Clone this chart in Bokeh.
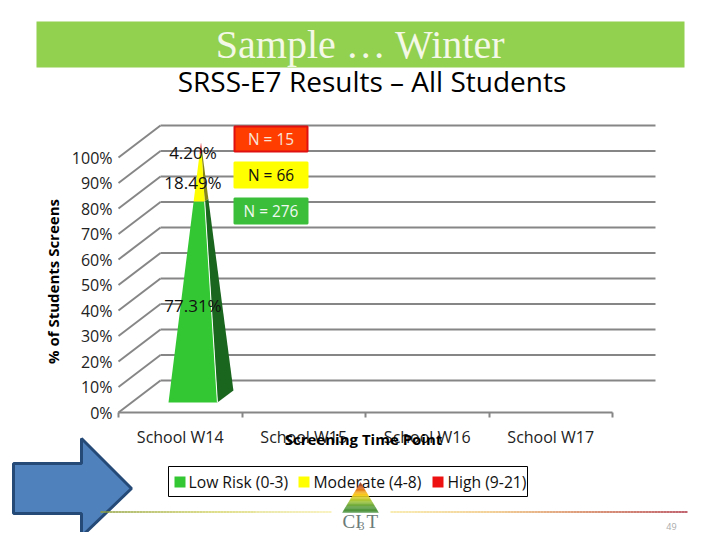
import numpy as np
from bokeh.embed import file_html
from bokeh.resources import INLINE
from bokeh.plotting import figure
from bokeh.models import (Range1d, LinearAxis, FixedTicker)
from bokeh.core.properties import value

# ---- data ----
categories = ["School W14", "School W15", "School W16", "School W17"]
low_risk = [77.31]
moderate = [18.49]
high = [4.20]
series_names = ["Low Risk (0-3)", "Moderate (4-8)", "High (9-21)"]
series_front = ["#33C733", "#FFFF00", "#EE1111"]
series_side = ["#1B661F", "#85851A", "#8B0F0F"]
n_labels = ["N = 15", "N = 66", "N = 276"]
pct_ticks = [0, 10, 20, 30, 40, 50, 60, 70, 80, 90, 100]

FONT = "Open Sans"
GRID = "#868686"
W, H = 712, 532
PX_X = 123.5   # page px per category
PX_Y = 2.55    # page px per percent on the wall
X0, Y0 = 118, 412
BAR_PX = 2.6
BAR_Y0 = 402


def tx(px):
    return (px - X0) / PX_X


def ty(py):
    return (Y0 - py) / PX_Y


p = figure(width=W, height=H, output_backend="svg", toolbar_location=None,
           x_range=Range1d(tx(0), tx(W)), y_range=Range1d(ty(H), ty(0)),
           x_axis_location=None, y_axis_location=None, min_border=0,
           background_fill_color="white", border_fill_color="white", outline_line_color=None)
p.xgrid.visible = False
p.ygrid.visible = False
p.extra_y_ranges["bar"] = Range1d((BAR_Y0 - H) / BAR_PX, BAR_Y0 / BAR_PX)
p.extra_x_ranges["page"] = Range1d(0, W)
p.extra_y_ranges["page"] = Range1d(H, 0)
PG = dict(x_range_name="page", y_range_name="page")


def page_text(x, y, s, size, color="black", font=FONT, style="normal", align="center", angle=0, level="overlay"):
    p.text([x], [y], text=[s], text_font=value(font), text_font_size=f"{size}px", text_color=color,
           text_font_style=style, text_align=align, text_baseline="middle", angle=angle, level=level, **PG)


# header
p.quad(left=[36], right=[684], top=[21], bottom=[67], fill_color="#92D050", line_color=None, **PG)
page_text(360, 44, "Sample … Winter", 40, color="#F4F8E6", font="Liberation Serif")
page_text(371.5, 80, "SRSS-E7 Results – All Students", 28)

# 3D wall
dx, dy = 42 / PX_X, 32 / PX_Y
ticks = np.array(pct_ticks, dtype=float)
p.segment(x0=np.zeros_like(ticks), y0=ticks, x1=np.full_like(ticks, dx), y1=ticks + dy,
          line_color=GRID, line_width=2)
p.segment(x0=np.full_like(ticks, dx), y0=ticks + dy, x1=np.full_like(ticks, tx(655)), y1=ticks + dy,
          line_color=GRID, line_width=2)

# axes
xa = LinearAxis(fixed_location=0, ticker=FixedTicker(ticks=[0, 1, 2, 3, 4]), major_tick_out=5, major_tick_in=0,
                minor_tick_line_color=None, axis_line_color=GRID, axis_line_width=2, bounds=(0, 4),
                major_tick_line_color=GRID, major_tick_line_width=2, major_label_text_color=None)
xa.major_label_text_font_size = "1px"
p.add_layout(xa, "below")
xl = LinearAxis(fixed_location=0, ticker=FixedTicker(ticks=[i + 0.5 for i in range(len(categories))]),
                major_tick_line_color=None, minor_tick_line_color=None, axis_line_color=None, major_tick_out=0,
                major_label_overrides={i + 0.5: c for i, c in enumerate(categories)},
                major_label_standoff=13, major_label_text_font=FONT, major_label_text_font_size="16px",
                major_label_text_color="#222222")
p.add_layout(xl, "below")
ya = LinearAxis(fixed_location=0, ticker=FixedTicker(ticks=pct_ticks), major_tick_out=0,
                major_tick_line_color=None, minor_tick_line_color=None, axis_line_color=None,
                major_label_overrides={t: f"{t}%" for t in pct_ticks},
                major_label_standoff=6, major_label_text_font=FONT, major_label_text_font_size="16px",
                major_label_text_color="#222222")
p.add_layout(ya, "left")

# pyramid
center, half = 0.603, 0.198
d_x, d_y = 16 / PX_X, 12 / BAR_PX
apex = center + d_x / 2
vals = [low_risk[0], moderate[0], high[0]]
tops = np.cumsum(vals)
bots = tops - np.array(vals)


def XL(v): return center - half + (apex - center + half) * v / 100
def XR(v): return center + half + (apex - center - half) * v / 100
def XB(v): return center + half + d_x + (apex - center - half - d_x) * v / 100
def YB(v): return d_y + (100 - d_y) * v / 100


for lo, hi, cf, cs in zip(bots, tops, series_front, series_side):
    p.patch([XR(lo), XB(lo), XB(hi), XR(hi)], [lo, YB(lo), YB(hi), hi], fill_color=cs, line_color=None,
            y_range_name="bar")
    p.patch([XL(lo), XR(lo), XR(hi), XL(hi)], [lo, lo, hi, hi], fill_color=cf, line_color=None,
            y_range_name="bar")
p.line([XR(0), XR(tops[0])], [0, tops[0]], line_color="white", line_width=1, y_range_name="bar")

# data labels
mids = (bots + tops) / 2
p.text(x=[center] * 3, y=mids, text=[f"{v:.2f}%" for v in vals], text_font=value(FONT), text_font_size="17px",
       text_color="#111111", text_align="center", text_baseline="middle", y_offset=[4, 5, 5], y_range_name="bar",
       level="overlay")

# N boxes
n_top = [125, 161, 197]
n_fill = ["#FF3D00", "#FFFF00", "#3BBF3B"]
n_line = ["#E01010", "#FFFF00", "#3BBF3B"]
n_txt = ["#F8E4D8", "#111111", "#F0F8F0"]
for i, (t, f, l, c, s) in enumerate(zip(n_top, n_fill, n_line, n_txt, n_labels)):
    p.quad(left=[234], right=[307], top=[t + 1], bottom=[t + 26], fill_color=f, line_color=l, line_width=2, **PG)
    page_text(270.5, t + 13.5, s, 15.4, color=c)

# axis titles
page_text(52, 281, "% of Students Screens", 15, style="bold", angle=np.pi / 2)
page_text(363, 438, "Screening Time Point", 15, style="bold")

# arrow
p.patch([13, 81, 81, 131, 81, 81, 13], [463, 463, 438, 488, 536, 513, 513], fill_color="#4F81BD",
        line_color="#254A78", line_width=3, **PG)

# footer rule
def rule(x0, x1, stops):
    xs = np.arange(x0, x1, 3.0)
    f = np.linspace(0, 1, len(stops))
    rgb = np.array([[int(c[i:i + 2], 16) for i in (1, 3, 5)] for c in stops], dtype=float)
    cols = ["#%02x%02x%02x" % tuple(int(np.interp(u, f, rgb[:, k])) for k in range(3))
            for u in np.linspace(0, 1, len(xs))]
    p.segment(x0=xs, x1=xs + 3, y0=[511.5] * len(xs), y1=[511.5] * len(xs), line_color=cols, line_width=1.3, **PG)


rule(100, 330, ["#8FA03C", "#D4D468", "#F5EBA0"])
rule(390, 685, ["#F5E28A", "#EDB860", "#C86030", "#A01020"])

page_text(671, 526, "49", 9, color="#AAAAAA")

# legend (drawn as glyphs so that the logo can sit on top of it)
legend_swatch_x = [174, 298, 432]
legend_text_x = [188, 313, 447]
p.quad(left=[168], right=[527], top=[466], bottom=[496], fill_color="white", line_color="black", line_width=1,
       level="overlay", **PG)
p.quad(left=legend_swatch_x, right=[x + 11 for x in legend_swatch_x], top=[476] * 3, bottom=[487] * 3,
       fill_color=series_front, line_color=None, level="overlay", **PG)
p.text(legend_text_x, [481] * 3, text=series_names, text_font=value(FONT), text_font_size="15.7px",
       text_color="#111111", text_align="left", text_baseline="middle", level="overlay", **PG)

# logo over the legend
strips = 24
apex_x, apex_y, base_y, base_half = 360, 482, 512, 18
stops = ["#8E3A2E", "#E0701F", "#FFD21F", "#A8C83A", "#5CA040", "#4A9040"]
rgb = np.array([[int(c[i:i + 2], 16) for i in (1, 3, 5)] for c in stops], dtype=float)
sx, sy, sc = [], [], []
for i in range(strips):
    a, b = i / strips, (i + 1) / strips
    y0, y1 = apex_y + (base_y - apex_y) * a, apex_y + (base_y - apex_y) * b
    sx.append([apex_x - base_half * a, apex_x + base_half * a, apex_x + base_half * b, apex_x - base_half * b])
    sy.append([y0, y0, y1, y1])
    sc.append("#%02x%02x%02x" % tuple(int(np.interp(a, np.linspace(0, 1, len(stops)), rgb[:, k])) for k in range(3)))
p.patches(sx, sy, fill_color=sc, line_color=sc, line_width=0.3, level="overlay", **PG)
page_text(342, 521, "CI", 19, color="#6B7B78", font="Liberation Serif", align="left")
page_text(361, 525, "3", 12, color="#6B7B78", font="Liberation Serif", align="center")
page_text(366, 521, "T", 19, color="#6B7B78", font="Liberation Serif", align="left")

open("out.html", "w").write(file_html(p, INLINE))
